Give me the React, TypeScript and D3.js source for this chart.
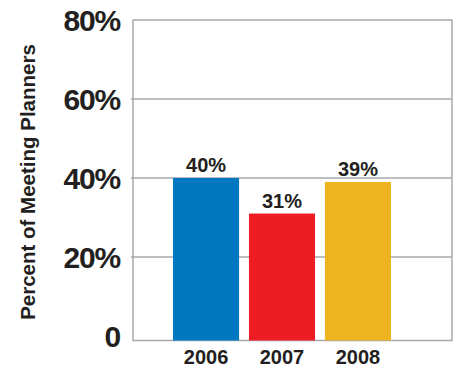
import React from "react";
import * as d3 from "d3";

const years = ["2006", "2007", "2008"];
const values = [40, 31, 39];
const colors = ["#0077C1", "#EE1C25", "#EDB41F"];
const yTicks = [0, 20, 40, 60, 80];
const yTickLabels = ["0", "20%", "40%", "60%", "80%"];
const yTitle = "Percent of Meeting Planners";

const W = 459;
const H = 367;

export default function App() {
  const left = 133;
  const right = 452;
  const top = 20;
  const bottom = 340.5;
  const y = d3.scaleLinear().domain([0, 80]).range([336, top]);
  const x = d3.scaleBand<string>().domain(years).range([173, 391]).paddingInner(0.13).paddingOuter(0);
  const textColor = "#231F20";
  const grid = "#A7A9AC";
  return (
    <svg width={W} height={H} style={{ position: "absolute", left: 0, top: 0 }} fontFamily="'Liberation Sans', Arial, sans-serif">
      <rect width={W} height={H} fill="#fff" />
      {yTicks.filter((t) => t > 0 && t < 80).map((t) => (
        <line key={t} x1={left - 2} x2={right} y1={y(t)} y2={y(t)} stroke={grid} strokeWidth={1.5} />
      ))}
      <rect x={left} y={top} width={right - left} height={bottom - top} fill="none" stroke={grid} strokeWidth={1.5} />
      {years.map((yr, i) => (
        <rect key={yr} x={x(yr)} y={y(values[i])} width={x.bandwidth()} height={bottom - y(values[i])} fill={colors[i]} />
      ))}
      {years.map((yr, i) => (
        <text key={"v" + yr} x={(x(yr) as number) + x.bandwidth() / 2} y={y(values[i]) - 6} textAnchor="middle" fontSize={20} fontWeight="bold" fill={textColor}>
          {values[i] + "%"}
        </text>
      ))}
      {years.map((yr) => (
        <text key={"x" + yr} x={(x(yr) as number) + x.bandwidth() / 2} y={364} textAnchor="middle" fontSize={20} fontWeight="bold" fill={textColor}>
          {yr}
        </text>
      ))}
      {yTicks.map((t, i) => (
        <text key={"t" + t} x={120} y={(t === 80 ? top : y(t)) + 11} textAnchor="end" fontSize={30} fontWeight="bold" letterSpacing={-1.2} fill={textColor}>
          {yTickLabels[i]}
        </text>
      ))}
      <text transform={`translate(35,182) rotate(-90)`} textAnchor="middle" fontSize={20.5} fontWeight="bold" fill={textColor}>
        {yTitle}
      </text>
    </svg>
  );
}
